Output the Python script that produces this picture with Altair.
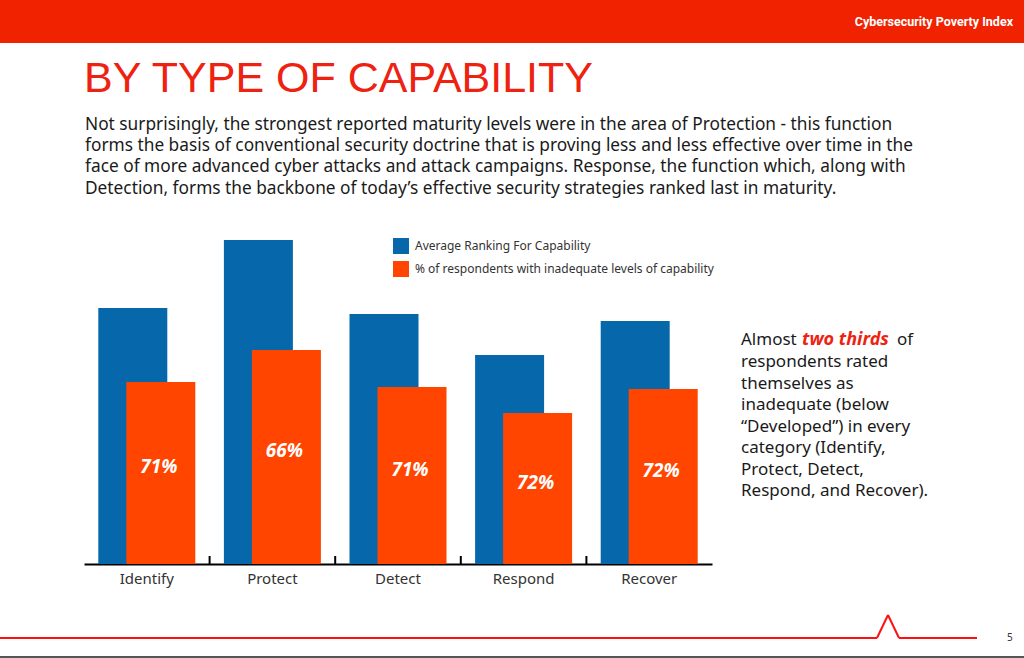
import altair as alt
import pandas as pd

# ---- data -------------------------------------------------------------
categories = ["Identify", "Protect", "Detect", "Respond", "Recover"]
avg_ranking = [2.56, 3.24, 2.50, 2.09, 2.43]
inadequate_level = [1.82, 2.14, 1.77, 1.51, 1.75]
inadequate_pct = ["71%", "66%", "71%", "72%", "72%"]
series_names = [
    "Average Ranking  For Capability",
    "% of respondents with inadequate levels of capability",
]
series_colors = ["#0667AA", "#FF4500"]

paragraph = [
    "Not surprisingly, the strongest reported maturity levels were in the area of Protection - this function",
    "forms the basis of conventional security doctrine that is proving less and less effective over time in the",
    "face of more advanced cyber attacks and attack campaigns. Response, the function which, along with",
    "Detection, forms the backbone of today\u2019s effective security strategies ranked last in maturity.",
]
side_note = [
    "respondents rated",
    "themselves as",
    "inadequate (below",
    "\u201cDeveloped\u201d) in every",
    "category (Identify,",
    "Protect, Detect,",
    "Respond, and Recover).",
]

rows = []
for i, (c, a, v, p) in enumerate(zip(categories, avg_ranking, inadequate_level, inadequate_pct)):
    rows.append({"category": c, "idx": i, "series": series_names[0], "value": a, "pct": ""})
    rows.append({"category": c, "idx": i, "series": series_names[1], "value": v, "pct": p})
df = pd.DataFrame(rows)

# ---- page geometry (plot area placed inside a 1024x658 page) ----------
PAGE_W, PAGE_H = 1024, 658
PX, PY = 84, 240          # plot area origin on the page
W, H = 628, 324           # plot area size
FONT = "Noto Sans"


def X(x):
    return x - PX


def Y(y):
    return y - PY


one = alt.Data(values=[{"k": 0}])


def text(t, x, y, size, color="#1a1a1a", weight="normal", style="normal",
         align="left", baseline="middle", font=FONT, **kw):
    return alt.Chart(one).mark_text(
        text=t, fontSize=size, color=color, fontWeight=weight, fontStyle=style,
        align=align, baseline=baseline, font=font, **kw
    ).encode(x=alt.value(X(x)), y=alt.value(Y(y)))


def rule(x1, y1, x2, y2, color, width):
    return alt.Chart(one).mark_rule(color=color, strokeWidth=width).encode(
        x=alt.value(X(x1)), y=alt.value(Y(y1)),
        x2=alt.value(X(x2)), y2=alt.value(Y(y2)),
    )


# ---- bars -------------------------------------------------------------
x_enc = alt.X(
    "category:N", sort=categories, title=None,
    scale=alt.Scale(paddingInner=0, paddingOuter=0),
    axis=alt.Axis(labelAngle=0, ticks=False, domainColor="#000000", domainWidth=2,
                  labelFontSize=15, labelColor="#333333", labelFont=FONT,
                  labelPadding=7),
)
y_enc = alt.Y("value:Q", axis=None, scale=alt.Scale(domain=[0, 3.24], nice=False))
color_enc = alt.Color(
    "series:N",
    scale=alt.Scale(domain=series_names, range=series_colors),
    legend=alt.Legend(orient="none", legendX=309, legendY=-2, title=None,
                      symbolType="square", symbolSize=256, symbolStrokeWidth=0,
                      symbolOpacity=1, labelFontSize=12, labelColor="#333333",
                      labelFont=FONT, labelOffset=6, rowPadding=7, padding=0,
                      labelLimit=0),
)

base = alt.Chart(df)
blue = base.transform_filter(alt.datum.series == series_names[0]).mark_bar(
    width=69, xOffset=-14
).encode(x=x_enc, y=y_enc, color=color_enc)
orange = base.transform_filter(alt.datum.series == series_names[1]).mark_bar(
    width=69, xOffset=14
).encode(x=x_enc, y=y_enc, color=color_enc)

pct_labels = base.transform_filter(alt.datum.series == series_names[1]).transform_calculate(
    mid="datum.value / 2"
).mark_text(
    color="white", fontSize=19, fontWeight="bold", fontStyle="italic", font=FONT,
    xOffset=12, dy=-6, baseline="middle"
).encode(x=x_enc, y=alt.Y("mid:Q", scale=alt.Scale(domain=[0, 3.24], nice=False)),
         text="pct:N")

# interior ticks between categories, pointing up from the axis
ticks = base.transform_filter(
    (alt.datum.series == series_names[0]) & (alt.datum.idx > 0)
).mark_rule(color="black", strokeWidth=2).encode(
    x=alt.X("category:N", sort=categories, bandPosition=0),
    y=alt.value(H - 8), y2=alt.value(H),
)

# ---- page furniture ----------------------------------------------------
header = alt.Chart(one).mark_rect(color="#F02200").encode(
    x=alt.value(X(0)), x2=alt.value(X(PAGE_W)), y=alt.value(Y(0)), y2=alt.value(Y(43))
)
header_txt = text("Cybersecurity Poverty Index", 1013, 22, 12.5, color="white",
                  weight="bold", align="right", font="Roboto")
title = text("BY TYPE OF CAPABILITY", 84, 92, 43, color="#EE2211",
             baseline="alphabetic", font="Liberation Sans")
para = alt.Chart(one).mark_text(
    text=paragraph, fontSize=17.3, color="#1a1a1a", font=FONT, align="left",
    baseline="middle", lineHeight=21.4
).encode(x=alt.value(X(85)), y=alt.value(Y(124.5)))

note1 = text("Almost", 741, 340, 17)
note2 = text("two thirds", 802, 340, 18, color="#EE2211", weight="bold", style="italic")
note3 = text("of", 897, 340, 17)
note_rest = alt.Chart(one).mark_text(
    text=side_note, fontSize=17, color="#1a1a1a", font=FONT, align="left",
    baseline="middle", lineHeight=21.5
).encode(x=alt.value(X(741)), y=alt.value(Y(362)))

foot = [
    rule(0, 638, 877, 638, "#FF1010", 2),
    rule(877, 638, 888, 615, "#FF1010", 2),
    rule(888, 615, 899, 638, "#FF1010", 2),
    rule(899, 638, 977, 638, "#FF1010", 2),
    rule(0, 657, PAGE_W, 657, "#555555", 2),
    text("5", 1007, 638, 10, color="#333333"),
]

chart = alt.layer(
    header, header_txt, title, para,
    blue, orange, pct_labels, ticks,
    note1, note2, note3, note_rest,
    *foot,
).properties(
    width=W, height=H,
    autosize=alt.AutoSizeParams(type="none"),
    padding={"left": PX, "top": PY, "right": PAGE_W - PX - W, "bottom": PAGE_H - PY - H},
    background="white",
).configure_view(strokeWidth=0)

chart.save("out.html", embed_options={"renderer": "svg", "actions": False})
